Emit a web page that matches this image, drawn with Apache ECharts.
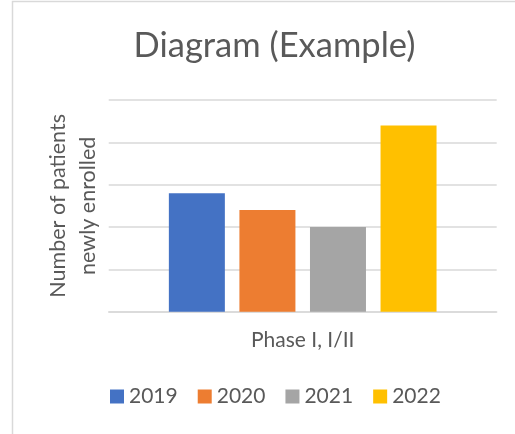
<!DOCTYPE html>
<html>
<head>
<meta charset="utf-8">
<script src="https://cdn.jsdelivr.net/npm/echarts@6/dist/echarts.min.js"></script>
<style>
html,body{margin:0;padding:0;background:#fff;}
#chart{width:515px;height:434px;}
</style>
</head>
<body>
<div id="chart"></div>
<script>
var categories = ['Phase I, I/II'];
var seriesNames = ['2019', '2020', '2021', '2022'];
var values2019 = [2.8];
var values2020 = [2.4];
var values2021 = [2.0];
var values2022 = [4.4];
var colors = ['#4472C4', '#ED7D31', '#A5A5A5', '#FFC000'];

var FONT = 'Lato';
var TXT = '#595959';
var seriesValues = [values2019, values2020, values2021, values2022];

var chart = echarts.init(document.getElementById('chart'), null, {renderer: 'canvas'});
chart.setOption({
  animation: false,
  backgroundColor: '#fff',
  color: colors,
  graphic: [{
    type: 'rect',
    shape: {x: 12.5, y: 1.5, width: 700, height: 700},
    style: {fill: 'none', stroke: '#d9d9d9', lineWidth: 1.5},
    silent: true
  }],
  title: {
    text: 'Diagram (Example)',
    left: 269.5,
    top: 23,
    textAlign: 'center',
    textStyle: {fontFamily: FONT, fontSize: 34.5, fontWeight: 'normal', color: TXT}
  },
  legend: {
    left: 110,
    top: 386,
    padding: 0,
    itemWidth: 14,
    itemHeight: 14,
    itemGap: 20,
    icon: 'rect',
    textStyle: {fontFamily: FONT, fontSize: 21, color: TXT, padding: [0, 0, 0, 0]},
    data: seriesNames
  },
  grid: {left: 108.7, right: 18.3, top: 100, bottom: 122.3, containLabel: false},
  xAxis: {
    type: 'category',
    data: categories,
    axisLine: {lineStyle: {color: '#d9d9d9', width: 1.5}},
    axisTick: {show: false},
    axisLabel: {fontFamily: FONT, fontSize: 21, color: TXT, margin: 18}
  },
  yAxis: {
    type: 'value',
    min: 0,
    max: 5,
    interval: 1,
    name: 'Number of patients\nnewly enrolled',
    nameLocation: 'middle',
    nameGap: 6,
    nameRotate: 90,
    nameTextStyle: {fontFamily: FONT, fontSize: 21.5, color: TXT, lineHeight: 30},
    axisLine: {show: false},
    axisTick: {show: false},
    axisLabel: {show: false},
    splitLine: {lineStyle: {color: '#d9d9d9', width: 1.5}}
  },
  series: seriesNames.map(function (n, i) {
    return {
      name: n,
      type: 'bar',
      data: seriesValues[i],
      barWidth: 56,
      barGap: '26%'
    };
  })
});
</script>
</body>
</html>
